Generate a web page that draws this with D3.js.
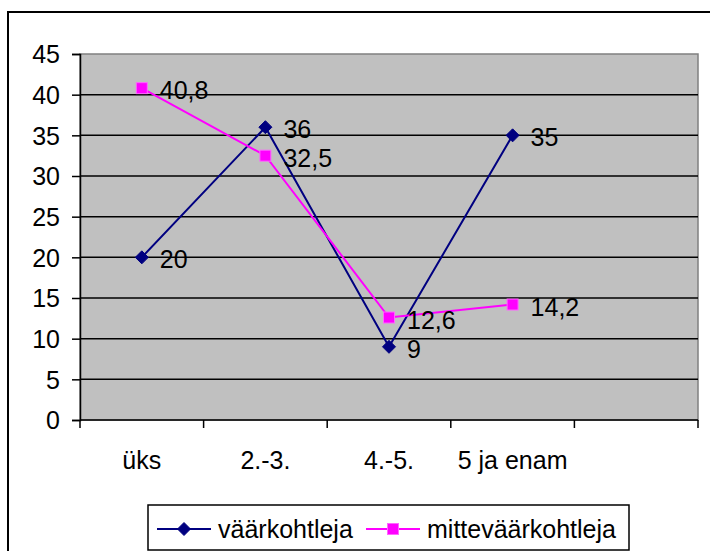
<!DOCTYPE html>
<html><head><meta charset="utf-8">
<script src="https://cdn.jsdelivr.net/npm/d3@7"></script>
<style>body{margin:0;background:#fff}svg{display:block;font-family:"Liberation Sans",Arial,sans-serif}</style>
</head><body>
<svg id="c" width="710" height="551"></svg>
<script>
const categories = ["üks", "2.-3.", "4.-5.", "5 ja enam", ""];
const seriesNames = ["väärkohtleja", "mitteväärkohtleja"];
const vaarkohtleja = [20, 36, 9, 35];
const mittevaarkohtleja = [40.8, 32.5, 12.6, 14.2];
const yTicks = [0, 5, 10, 15, 20, 25, 30, 35, 40, 45];
const colors = ["#000080", "#FF00FF"];

const svg = d3.select("#c");
const L = 80, R = 698, T = 54, B = 420;
const x = d3.scaleBand().domain(categories).range([L, R]).padding(0);
const y = d3.scaleLinear().domain([0, 45]).range([B, T]);
const loc = d3.formatLocale({decimal: ",", thousands: " ", grouping: [3], currency: ["", ""]});
const fmt = v => Number.isInteger(v) ? String(v) : loc.format(".1f")(v);

// outer border
svg.append("rect").attr("x", 8).attr("y", 12).attr("width", 710).attr("height", 560)
  .attr("fill", "#fff").attr("stroke", "#000").attr("stroke-width", 2);

// plot area
svg.append("rect").attr("x", L).attr("y", T).attr("width", R - L).attr("height", B - T)
  .attr("fill", "#C0C0C0").attr("stroke", "#808080").attr("stroke-width", 1.5);

// gridlines
svg.append("g").selectAll("line").data(yTicks.filter(d => d > 0 && d < 45)).join("line")
  .attr("x1", L).attr("x2", R).attr("y1", d => y(d)).attr("y2", d => y(d))
  .attr("stroke", "#000").attr("stroke-width", 1.5);

// y axis
const ya = svg.append("g").attr("transform", `translate(${L},0)`)
  .call(d3.axisLeft(y).tickValues(yTicks).tickSize(8).tickPadding(12).tickFormat(d => d));
ya.select(".domain").attr("stroke", "#000").attr("stroke-width", 1.5);
ya.selectAll(".tick line").attr("stroke", "#000").attr("stroke-width", 1.5);
ya.selectAll(".tick text").attr("font-size", 25).attr("fill", "#000")
  .attr("font-family", "Liberation Sans, Arial, sans-serif").attr("dy", "0.35em");

// x axis
const xa = svg.append("g").attr("transform", `translate(0,${B})`);
xa.append("line").attr("x1", L).attr("x2", R).attr("stroke", "#000").attr("stroke-width", 1.5);
const bounds = categories.map(c => x(c)).concat([x(categories[categories.length - 1]) + x.bandwidth()]);
xa.selectAll(".tk").data(bounds).join("line").attr("class", "tk")
  .attr("x1", d => d).attr("x2", d => d).attr("y1", 0).attr("y2", 8)
  .attr("stroke", "#000").attr("stroke-width", 1.5);
xa.selectAll(".lb").data(categories).join("text").attr("class", "lb")
  .attr("x", d => x(d) + x.bandwidth() / 2).attr("y", 49)
  .attr("text-anchor", "middle").attr("font-size", 25).attr("fill", "#000").text(d => d);

// series
const data = [vaarkohtleja, mittevaarkohtleja];
const cx = i => x(categories[i]) + x.bandwidth() / 2;
const line = d3.line().x((d, i) => cx(i)).y(d => y(d));
data.forEach((vals, s) => {
  svg.append("path").attr("d", line(vals)).attr("fill", "none")
    .attr("stroke", colors[s]).attr("stroke-width", 2);
});
function marker(g, s, px, py) {
  if (s === 0) {
    g.append("path").attr("d", `M${px},${py - 6.5}L${px + 6.5},${py}L${px},${py + 6.5}L${px - 6.5},${py}Z`)
      .attr("fill", colors[0]).attr("stroke", colors[0]).attr("stroke-width", 1);
  } else {
    g.append("rect").attr("x", px - 5.5).attr("y", py - 5.5).attr("width", 11).attr("height", 11)
      .attr("fill", colors[1]).attr("stroke", "#FF66FF").attr("stroke-width", 1);
  }
}
data.forEach((vals, s) => {
  const g = svg.append("g");
  vals.forEach((v, i) => marker(g, s, cx(i), y(v)));
});
data.forEach((vals, s) => {
  svg.append("g").selectAll("text").data(vals).join("text")
    .attr("x", (d, i) => cx(i) + 18).attr("y", d => y(d) + 11)
    .attr("font-size", 25).attr("fill", "#000").text(d => fmt(d));
});

// legend
const lg = svg.append("g");
lg.append("rect").attr("x", 148).attr("y", 505).attr("width", 481).attr("height", 45)
  .attr("fill", "#fff").attr("stroke", "#000").attr("stroke-width", 1.5);
const lx = [157, 366];
seriesNames.forEach((n, s) => {
  lg.append("line").attr("x1", lx[s]).attr("x2", lx[s] + 54).attr("y1", 529).attr("y2", 529)
    .attr("stroke", colors[s]).attr("stroke-width", 2);
  marker(lg, s, lx[s] + 27, 529);
  lg.append("text").attr("x", lx[s] + 61).attr("y", 538).attr("font-size", 25).attr("fill", "#000").text(n);
});
</script>
</body></html>
